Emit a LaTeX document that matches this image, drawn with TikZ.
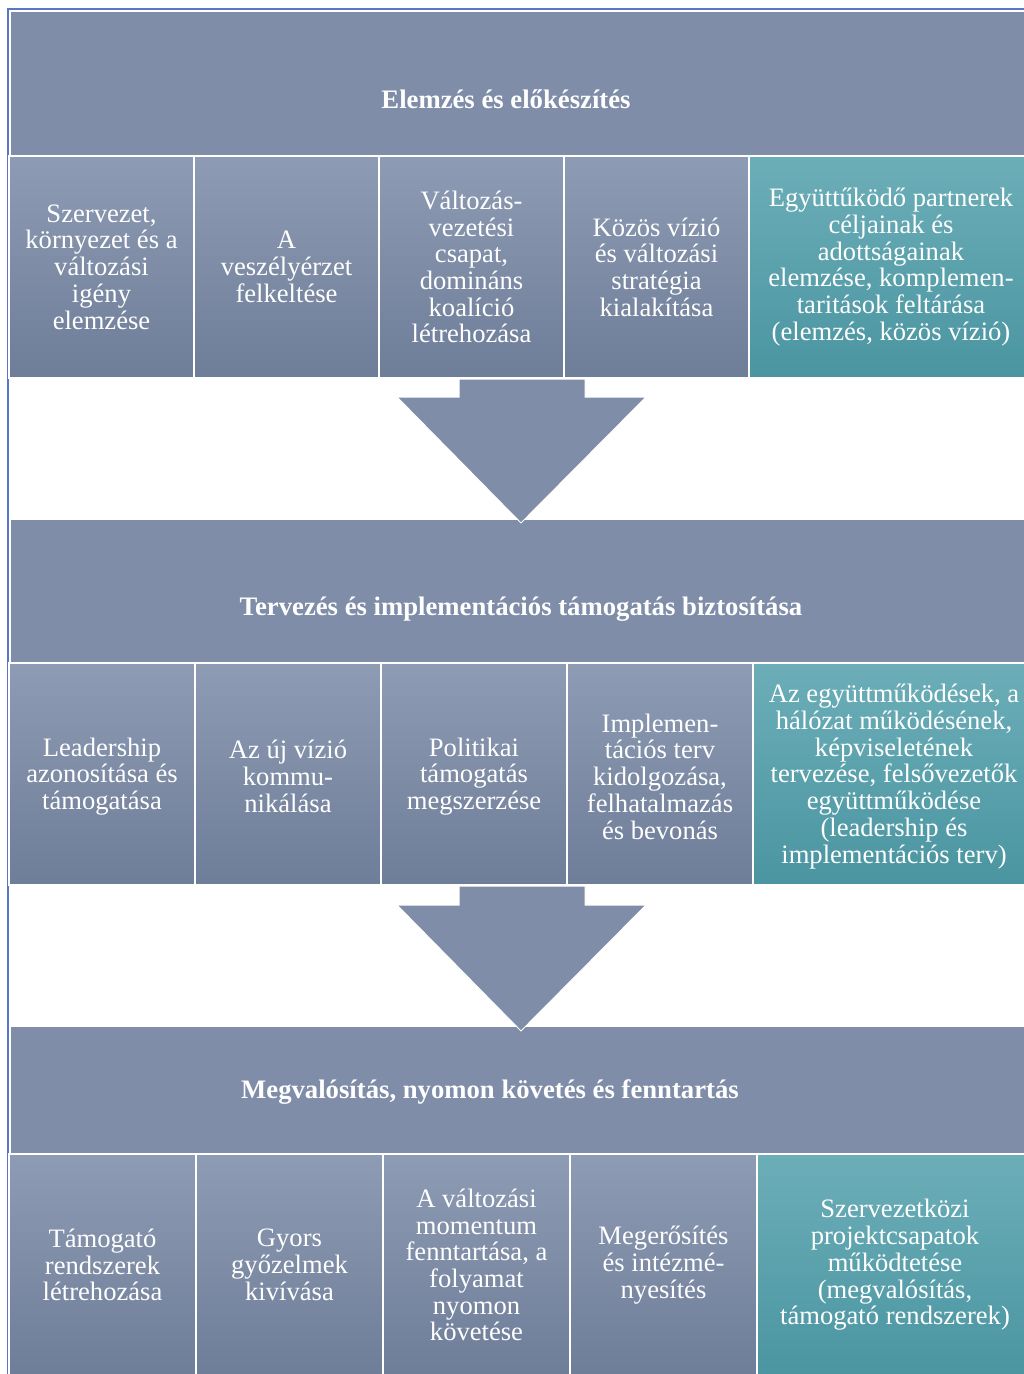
\documentclass[tikz,border=0pt]{standalone}
\usepackage{fontspec}
\setmainfont{Liberation Serif}
\usetikzlibrary{positioning}

\definecolor{slate}{HTML}{7F8DA8}
\definecolor{slatetop}{HTML}{8E9BB4}
\definecolor{slatebot}{HTML}{6E7D98}
\definecolor{tealtop}{HTML}{6CAEB8}
\definecolor{tealbot}{HTML}{4A95A1}
\definecolor{frameblue}{HTML}{5A76C6}

\tikzset{
  phase/.style={fill=slate, draw=white, line width=1.5pt, inner sep=0pt},
  phasetext/.style={inner sep=0pt, text=white,
    font=\fontsize{26.7}{30}\selectfont\bfseries},
  stepbox/.style={top color=slatetop, bottom color=slatebot, draw=white,
    line width=1.5pt, inner sep=0pt, text=white, align=center,
    font=\fontsize{26.6}{26.7}\selectfont},
  partnerbox/.style={stepbox, top color=tealtop, bottom color=tealbot},
  flowarrow/.style={fill=slate, draw=white, line width=1pt, line join=miter},
}

\begin{document}
\begin{tikzpicture}[x=1pt, y=-1pt]
\useasboundingbox (0,0) rectangle (1024,1374);
\fill[white] (0,0) rectangle (1024,1374);

% outer frame (top and left edges)
\draw[frameblue, line width=1.5pt] (8,1374) -- (8,9) -- (1024,9);

% ---------- phase 1 ----------
\node[phase, minimum width=1030pt, minimum height=146pt, anchor=north west] (p1) at (9,10) {};
\node[phasetext] (p1t) at (506,99) {Elemzés és előkészítés};

\node[stepbox, minimum width=185pt, minimum height=222pt] (a1) at (101.5,267) {Szervezet,\\környezet és a\\változási\\igény\\elemzése};
\node[stepbox, minimum width=185pt, minimum height=222pt] (a2) at (286.5,267) {A\\veszélyérzet\\felkeltése};
\node[stepbox, minimum width=185pt, minimum height=222pt] (a3) at (471.5,267) {Változás-\\vezetési\\csapat,\\domináns\\koalíció\\létrehozása};
\node[stepbox, minimum width=185pt, minimum height=222pt] (a4) at (656.5,267) {Közös vízió\\és változási\\stratégia\\kialakítása};
\node[partnerbox, minimum width=284pt, minimum height=222pt] (a5) at (891,267) {Együttűködő partnerek\\céljainak és\\adottságainak\\elemzése, komplemen-\\taritások feltárása\\(elemzés, közös vízió)};

% ---------- phase 2 ----------
\node[phase, minimum width=1030pt, minimum height=145pt, anchor=north west] (p2) at (9,518) {};
\node[phasetext] (p2t) at (521,609) {Tervezés és implementációs támogatás biztosítása};

\draw[flowarrow] (459,379) -- (585,379) -- (585,397) -- (646,397) -- (521,523)
  -- (397,397) -- (459,397) -- cycle;

\node[stepbox, minimum width=186pt, minimum height=222pt] (b1) at (102,774) {};
\node[stepbox, minimum width=186pt, minimum height=222pt] (b2) at (288,774) {};
\node[stepbox, minimum width=186pt, minimum height=222pt] (b3) at (474,774) {};
\node[stepbox, minimum width=186pt, minimum height=222pt] (b4) at (660,774) {};
\node[partnerbox, minimum width=282pt, minimum height=222pt] (b5) at (894,774) {};
% row texts sit a little below the cell centres
\begin{scope}[every node/.style={text=white, align=center, inner sep=0pt,
    font=\fontsize{26.6}{26.7}\selectfont}]
\node (b1t) at ([yshift=-2.5pt]b1.center) {Leadership\\azonosítása és\\támogatása};
\node (b2t) at ([yshift=-2.5pt]b2.center) {Az új vízió\\kommu-\\nikálása};
\node (b3t) at ([yshift=-2.5pt]b3.center) {Politikai\\támogatás\\megszerzése};
\node (b4t) at ([yshift=-2.5pt]b4.center) {Implemen-\\tációs terv\\kidolgozása,\\felhatalmazás\\és bevonás};
\node (b5t) at ([yshift=-2.5pt]b5.center) {Az együttműködések, a\\hálózat működésének,\\képviseletének\\tervezése, felsővezetők\\együttműködése\\(leadership és\\implementációs terv)};
\end{scope}

% ---------- phase 3 ----------
\node[phase, minimum width=1030pt, minimum height=129pt, anchor=north west] (p3) at (9,1025) {};
\node[phasetext] (p3t) at (490,1092) {Megvalósítás, nyomon követés és fenntartás};

\draw[flowarrow] (459,886) -- (585,886) -- (585,905) -- (646,905) -- (521,1031)
  -- (397,905) -- (459,905) -- cycle;

\node[stepbox, minimum width=187pt, minimum height=222pt] (c1) at (102.5,1265) {Támogató\\rendszerek\\létrehozása};
\node[stepbox, minimum width=187pt, minimum height=222pt] (c2) at (289.5,1265) {Gyors\\győzelmek\\kivívása};
\node[stepbox, minimum width=187pt, minimum height=222pt] (c3) at (476.5,1265) {A változási\\momentum\\fenntartása, a\\folyamat\\nyomon\\követése};
\node[stepbox, minimum width=187pt, minimum height=222pt] (c4) at (663.5,1265) {Megerősítés\\és intézmé-\\nyesítés};
\node[partnerbox, minimum width=276pt, minimum height=222pt] (c5) at (895,1265) {Szervezetközi\\projektcsapatok\\működtetése\\(megvalósítás,\\támogató rendszerek)};

\end{tikzpicture}
\end{document}
